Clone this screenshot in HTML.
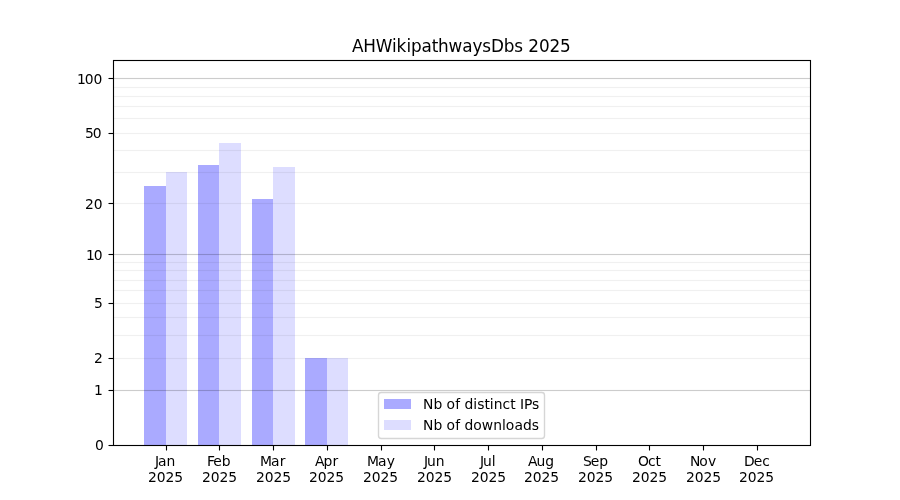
<!DOCTYPE html>
<html lang="en"><head><meta charset="utf-8"><title>AHWikipathwaysDbs 2025</title>
<style>html,body{margin:0;padding:0;background:#fff}body{width:900px;height:500px;overflow:hidden}svg{display:block}text{font-family:"DejaVu Sans","Liberation Sans",sans-serif;fill:#000;white-space:pre}.t{font-size:13.889px}.h{font-size:16.85px}</style>
</head><body>
<svg width="900" height="500" viewBox="0 0 900 500">
<rect width="900" height="500" fill="#fff"/>
<g shape-rendering="crispEdges">
<rect x="144" y="186" width="22" height="259" fill="#aaaaff"/>
<rect x="198" y="165" width="21" height="280" fill="#aaaaff"/>
<rect x="252" y="199" width="21" height="246" fill="#aaaaff"/>
<rect x="305" y="358" width="22" height="87" fill="#aaaaff"/>
<rect x="166" y="172" width="21" height="273" fill="#ddddff"/>
<rect x="219" y="143" width="22" height="302" fill="#ddddff"/>
<rect x="273" y="167" width="22" height="278" fill="#ddddff"/>
<rect x="327" y="358" width="21" height="87" fill="#ddddff"/>
</g>
<g shape-rendering="crispEdges" fill="#000">
<rect x="114" y="357" width="696" height="1" fill-opacity="0.0034"/><rect x="114" y="358" width="696" height="1" fill-opacity="0.06"/><rect x="114" y="359" width="696" height="1" fill-opacity="0.0034"/>
<rect x="114" y="334" width="696" height="1" fill-opacity="0.0034"/><rect x="114" y="335" width="696" height="1" fill-opacity="0.06"/><rect x="114" y="336" width="696" height="1" fill-opacity="0.0034"/>
<rect x="114" y="316" width="696" height="1" fill-opacity="0.0034"/><rect x="114" y="317" width="696" height="1" fill-opacity="0.06"/><rect x="114" y="318" width="696" height="1" fill-opacity="0.0034"/>
<rect x="114" y="302" width="696" height="1" fill-opacity="0.0034"/><rect x="114" y="303" width="696" height="1" fill-opacity="0.06"/><rect x="114" y="304" width="696" height="1" fill-opacity="0.0034"/>
<rect x="114" y="289" width="696" height="1" fill-opacity="0.0034"/><rect x="114" y="290" width="696" height="1" fill-opacity="0.06"/><rect x="114" y="291" width="696" height="1" fill-opacity="0.0034"/>
<rect x="114" y="279" width="696" height="1" fill-opacity="0.0034"/><rect x="114" y="280" width="696" height="1" fill-opacity="0.06"/><rect x="114" y="281" width="696" height="1" fill-opacity="0.0034"/>
<rect x="114" y="269" width="696" height="1" fill-opacity="0.0034"/><rect x="114" y="270" width="696" height="1" fill-opacity="0.06"/><rect x="114" y="271" width="696" height="1" fill-opacity="0.0034"/>
<rect x="114" y="261" width="696" height="1" fill-opacity="0.0034"/><rect x="114" y="262" width="696" height="1" fill-opacity="0.06"/><rect x="114" y="263" width="696" height="1" fill-opacity="0.0034"/>
<rect x="114" y="202" width="696" height="1" fill-opacity="0.0034"/><rect x="114" y="203" width="696" height="1" fill-opacity="0.06"/><rect x="114" y="204" width="696" height="1" fill-opacity="0.0034"/>
<rect x="114" y="171" width="696" height="1" fill-opacity="0.0034"/><rect x="114" y="172" width="696" height="1" fill-opacity="0.06"/><rect x="114" y="173" width="696" height="1" fill-opacity="0.0034"/>
<rect x="114" y="149" width="696" height="1" fill-opacity="0.0034"/><rect x="114" y="150" width="696" height="1" fill-opacity="0.06"/><rect x="114" y="151" width="696" height="1" fill-opacity="0.0034"/>
<rect x="114" y="132" width="696" height="1" fill-opacity="0.0034"/><rect x="114" y="133" width="696" height="1" fill-opacity="0.06"/><rect x="114" y="134" width="696" height="1" fill-opacity="0.0034"/>
<rect x="114" y="117" width="696" height="1" fill-opacity="0.0034"/><rect x="114" y="118" width="696" height="1" fill-opacity="0.06"/><rect x="114" y="119" width="696" height="1" fill-opacity="0.0034"/>
<rect x="114" y="105" width="696" height="1" fill-opacity="0.0034"/><rect x="114" y="106" width="696" height="1" fill-opacity="0.06"/><rect x="114" y="107" width="696" height="1" fill-opacity="0.0034"/>
<rect x="114" y="95" width="696" height="1" fill-opacity="0.0034"/><rect x="114" y="96" width="696" height="1" fill-opacity="0.06"/><rect x="114" y="97" width="696" height="1" fill-opacity="0.0034"/>
<rect x="114" y="86" width="696" height="1" fill-opacity="0.0034"/><rect x="114" y="87" width="696" height="1" fill-opacity="0.06"/><rect x="114" y="88" width="696" height="1" fill-opacity="0.0034"/>
<rect x="114" y="389" width="696" height="1" fill-opacity="0.011"/><rect x="114" y="390" width="696" height="1" fill-opacity="0.2"/><rect x="114" y="391" width="696" height="1" fill-opacity="0.011"/>
<rect x="114" y="253" width="696" height="1" fill-opacity="0.011"/><rect x="114" y="254" width="696" height="1" fill-opacity="0.2"/><rect x="114" y="255" width="696" height="1" fill-opacity="0.011"/>
<rect x="114" y="77" width="696" height="1" fill-opacity="0.011"/><rect x="114" y="78" width="696" height="1" fill-opacity="0.2"/><rect x="114" y="79" width="696" height="1" fill-opacity="0.011"/>
</g>
<g stroke="#000" stroke-width="1.11" fill="none">
<line x1="166.5" y1="445.5" x2="166.5" y2="450.5"/>
<line x1="219.5" y1="445.5" x2="219.5" y2="450.5"/>
<line x1="273.5" y1="445.5" x2="273.5" y2="450.5"/>
<line x1="327.5" y1="445.5" x2="327.5" y2="450.5"/>
<line x1="381.5" y1="445.5" x2="381.5" y2="450.5"/>
<line x1="434.5" y1="445.5" x2="434.5" y2="450.5"/>
<line x1="488.5" y1="445.5" x2="488.5" y2="450.5"/>
<line x1="542.5" y1="445.5" x2="542.5" y2="450.5"/>
<line x1="596.5" y1="445.5" x2="596.5" y2="450.5"/>
<line x1="649.5" y1="445.5" x2="649.5" y2="450.5"/>
<line x1="703.5" y1="445.5" x2="703.5" y2="450.5"/>
<line x1="757.5" y1="445.5" x2="757.5" y2="450.5"/>
<line x1="108.5" y1="445.5" x2="113" y2="445.5"/>
<line x1="108.5" y1="390.5" x2="113" y2="390.5"/>
<line x1="108.5" y1="358.5" x2="113" y2="358.5"/>
<line x1="108.5" y1="303.5" x2="113" y2="303.5"/>
<line x1="108.5" y1="254.5" x2="113" y2="254.5"/>
<line x1="108.5" y1="203.5" x2="113" y2="203.5"/>
<line x1="108.5" y1="133.5" x2="113" y2="133.5"/>
<line x1="108.5" y1="78.5" x2="113" y2="78.5"/>
<rect x="113.5" y="60.5" width="697" height="385" stroke-linejoin="miter"/>
</g>
<rect x="378.5" y="392.5" width="166" height="46" rx="2.78" ry="2.78" fill="#fff" fill-opacity="0.8" stroke="#ccc" stroke-opacity="0.8" stroke-width="1.39"/>
<g shape-rendering="crispEdges"><rect x="384" y="399" width="27" height="10" fill="#aaaaff"/><rect x="384" y="420" width="27" height="10" fill="#ddddff"/></g>
<text class="h" x="352 363.25 375.75 392 396.5 406.5 411 421.5 431.75 438 448.5 462.25 472.5 482.25 491 503.75 514.25 523 528.25 539 549.5 560" y="52">AHWikipathwaysDbs 2025</text>
<text class="t" x="95" y="450">0</text>
<text class="t" x="94" y="395">1</text>
<text class="t" x="94" y="363">2</text>
<text class="t" x="94" y="308">5</text>
<text class="t" x="86 93.75" y="260">10</text>
<text class="t" x="85 93.75" y="209">20</text>
<text class="t" x="85 92.75" y="138">50</text>
<text class="t" x="77 84.75 93.5" y="84">100</text>
<text class="t" x="155 158 166.5" y="466">Jan</text>
<text class="t" x="148 156.75 165.5 174.25" y="482">2025</text>
<text class="t" x="207 213.25 221.75" y="466">Feb</text>
<text class="t" x="202 210.75 219.5 228.25" y="482">2025</text>
<text class="t" x="260 271 279.75" y="466">Mar</text>
<text class="t" x="256 264.75 273.5 282.25" y="482">2025</text>
<text class="t" x="315 323.5 332.5" y="466">Apr</text>
<text class="t" x="309 317.75 326.5 335.25" y="482">2025</text>
<text class="t" x="367 378 386.75" y="466">May</text>
<text class="t" x="363 371.75 380.5 389.25" y="482">2025</text>
<text class="t" x="424 427 435.75" y="466">Jun</text>
<text class="t" x="417 425.75 434.5 443.25" y="482">2025</text>
<text class="t" x="480 483 491.75" y="466">Jul</text>
<text class="t" x="471 479.75 488.5 497.25" y="482">2025</text>
<text class="t" x="528 536.5 545.25" y="466">Aug</text>
<text class="t" x="524 532.75 541.5 550.25" y="482">2025</text>
<text class="t" x="583 590.75 599.25" y="466">Sep</text>
<text class="t" x="578 586.75 595.5 604.25" y="482">2025</text>
<text class="t" x="638 648 655.5" y="466">Oct</text>
<text class="t" x="632 640.75 649.5 658.25" y="482">2025</text>
<text class="t" x="690 699.25 708" y="466">Nov</text>
<text class="t" x="686 694.75 703.5 712.25" y="482">2025</text>
<text class="t" x="744 753.75 762.25" y="466">Dec</text>
<text class="t" x="739 747.75 756.5 765.25" y="482">2025</text>
<text class="t" x="423 433.5 442.25 446.5 455.25 460.25 464.5 473.25 477.25 484.5 489.75 493.75 502.5 510.25 515.75 520 524 532" y="409">Nb of distinct IPs</text>
<text class="t" x="423 433.5 442.25 446.5 455.25 460.25 464.5 473.25 481.75 493.25 502 505.75 514.5 523 531.75" y="430">Nb of downloads</text>
</svg>
</body></html>
